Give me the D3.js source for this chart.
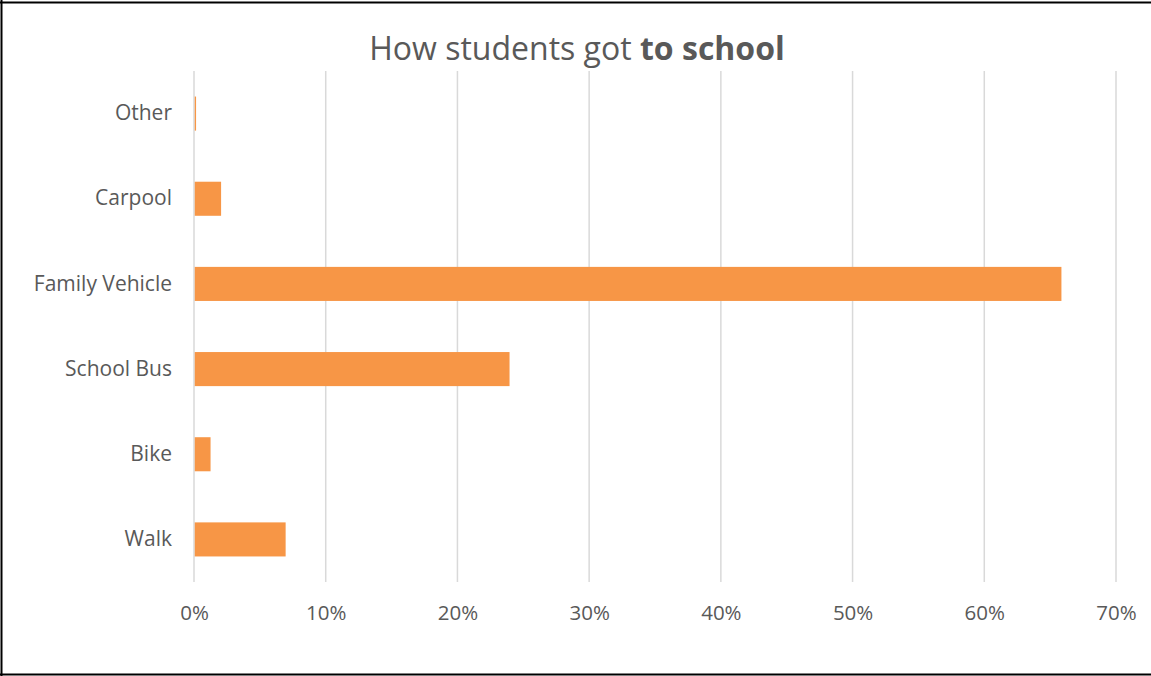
<!DOCTYPE html>
<html>
<head>
<meta charset="utf-8">
<script src="https://cdn.jsdelivr.net/npm/d3@7/dist/d3.min.js"></script>
<style>
  html, body { margin: 0; padding: 0; background: #fff; }
  svg { display: block; }
  text { font-family: "Open Sans", "Noto Sans", sans-serif; fill: #595959; }
</style>
</head>
<body>
<script>
const categories = ["Other", "Carpool", "Family Vehicle", "School Bus", "Bike", "Walk"];
const values = [0.001, 0.02, 0.658, 0.239, 0.012, 0.069];
const tickValues = [0, 0.1, 0.2, 0.3, 0.4, 0.5, 0.6, 0.7];
const titleParts = [{ text: "How students got ", bold: false }, { text: "to school", bold: true }];

const W = 1151, H = 676;
const margin = { left: 194, right: 35, top: 71, bottom: 94 };

const svg = d3.select("body").append("svg").attr("width", W).attr("height", H);

// frame
svg.append("line").attr("x1", 0).attr("x2", W).attr("y1", 2.5).attr("y2", 2.5).attr("stroke", "#000").attr("stroke-width", 2);
svg.append("line").attr("x1", 1.5).attr("x2", 1.5).attr("y1", 0).attr("y2", H).attr("stroke", "#000").attr("stroke-width", 2);
svg.append("line").attr("x1", 0).attr("x2", W).attr("y1", 674.5).attr("y2", 674.5).attr("stroke", "#000").attr("stroke-width", 2);

const x = d3.scaleLinear().domain([0, 0.7]).range([margin.left, W - margin.right]);
const y = d3.scaleBand().domain(categories).range([margin.top, H - margin.bottom]).paddingInner(0.6).paddingOuter(0.3);

// gridlines
svg.append("g").selectAll("line").data(tickValues).join("line")
  .attr("x1", d => x(d)).attr("x2", d => x(d))
  .attr("y1", margin.top).attr("y2", H - margin.bottom)
  .attr("stroke", "#d9d9d9").attr("stroke-width", 1.5);

// bars
svg.append("g").selectAll("rect").data(categories).join("rect")
  .attr("x", x(0) + 0.75)
  .attr("y", d => y(d))
  .attr("width", (d, i) => Math.max(0.5, x(values[i]) - x(0)))
  .attr("height", y.bandwidth())
  .attr("fill", "#F79646");

// x axis labels
const xAxis = d3.axisBottom(x).tickValues(tickValues).tickFormat(d3.format(".0%")).tickSize(0).tickPadding(0);
const gx = svg.append("g").attr("transform", `translate(0,${H - margin.bottom + 38})`).call(xAxis);
gx.select(".domain").remove();
gx.selectAll("text").attr("font-size", 20.5).attr("fill", "#595959").attr("dy", "0").style("font-family", "'Open Sans', sans-serif");

// y axis labels
const yAxis = d3.axisLeft(y).tickSize(0).tickPadding(22);
const gy = svg.append("g").attr("transform", `translate(${margin.left},0)`).call(yAxis);
gy.select(".domain").remove();
gy.selectAll("text").attr("font-size", 21).attr("fill", "#595959").style("font-family", "'Open Sans', sans-serif");

// title
const t = svg.append("text").attr("x", 577).attr("y", 60).attr("text-anchor", "middle").attr("font-size", 32);
t.selectAll("tspan").data(titleParts).join("tspan")
  .text(d => d.text).attr("font-weight", d => d.bold ? "bold" : "normal");
</script>
</body>
</html>
